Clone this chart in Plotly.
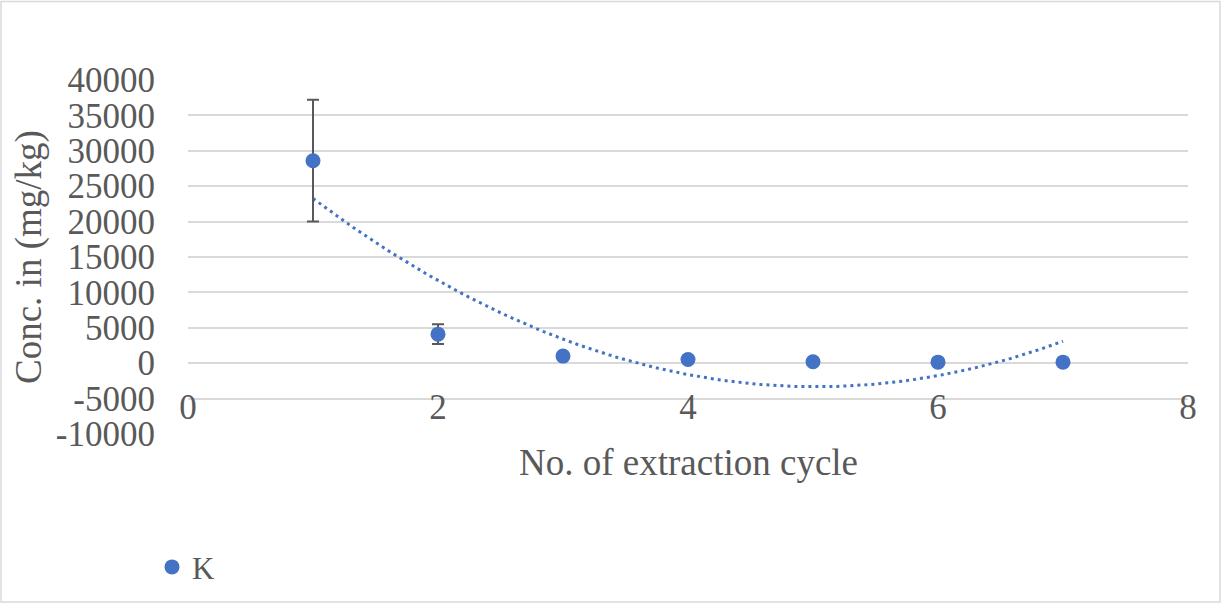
import numpy as np
import plotly.graph_objects as go

# Potassium concentration per extraction cycle
cycles = [1, 2, 3, 4, 5, 6, 7]
k_conc = [28600, 4100, 1000, 530, 200, 150, 150]
k_err = [8600, 1400, 250, 150, 60, 40, 30]

x_ticks = [0, 2, 4, 6, 8]
y_ticks = list(range(-10000, 40001, 5000))

BLUE = "#4472C4"
GREY = "#595959"
FONT = "Liberation Serif, Times New Roman, serif"

# Second-order polynomial trendline (least squares)
coef = np.polyfit(cycles, k_conc, 2)
tx = np.linspace(min(cycles), max(cycles), 200)
ty = np.polyval(coef, tx)

W, H = 1222, 606
ML, MR, MT, MB = 188, 34, 80, 170
PW, PH = W - ML - MR, H - MT - MB

def px(x):
    return (x - ML) / PW

def py(y):
    return (H - MB - y) / PH

fig = go.Figure()
fig.add_trace(go.Scatter(
    x=tx, y=ty, mode="lines",
    line=dict(color=BLUE, width=3, dash="3px,4px"),
    showlegend=False, hoverinfo="skip",
))
fig.add_trace(go.Scatter(
    x=cycles, y=k_conc, mode="markers", name="K",
    marker=dict(color=BLUE, size=15),
    error_y=dict(type="data", array=k_err, color=GREY, thickness=2, width=6),
))

fig.update_layout(
    width=W, height=H,
    margin=dict(l=ML, r=MR, t=MT, b=MB),
    paper_bgcolor="white", plot_bgcolor="white",
    font=dict(family=FONT, color=GREY, size=35),
    xaxis=dict(
        range=[0, 8], tickvals=x_ticks, ticktext=[str(v) for v in x_ticks],
        showgrid=False, zeroline=False, showline=False, ticks="",
        anchor="free", position=0.2,
        ticklabelstandoff=20,
        tickfont=dict(size=35, color=GREY, family=FONT),
    ),
    yaxis=dict(
        range=[-10000, 40000], tickvals=y_ticks, ticktext=[str(v) for v in y_ticks],
        showgrid=True, gridcolor="#D9D9D9", gridwidth=1.5,
        zeroline=True, zerolinecolor="#D9D9D9", zerolinewidth=1.5,
        showline=False, ticks="", ticklabelstandoff=32,
        tickfont=dict(size=35, color=GREY, family=FONT),
    ),
    legend=dict(
        orientation="h", x=px(152), xanchor="left", y=py(570), yanchor="middle",
        font=dict(size=31, color=GREY, family=FONT), bgcolor="rgba(0,0,0,0)",
    ),
    annotations=[
        dict(text="No. of extraction cycle", xref="paper", yref="paper",
             x=0.5, y=py(465), xanchor="center", yanchor="middle",
             showarrow=False, font=dict(size=37, color=GREY, family=FONT)),
        dict(text="Conc. in (mg/kg)", xref="paper", yref="paper",
             x=px(29), y=0.5, xanchor="center", yanchor="middle", textangle=-90,
             showarrow=False, font=dict(size=37, color=GREY, family=FONT)),
    ],
    shapes=[
        dict(type="rect", xref="paper", yref="paper",
             x0=px(1), x1=px(1220), y0=py(605), y1=py(1),
             line=dict(color="#D9D9D9", width=1.5), layer="below"),
    ],
)

fig.write_html("out.html")
